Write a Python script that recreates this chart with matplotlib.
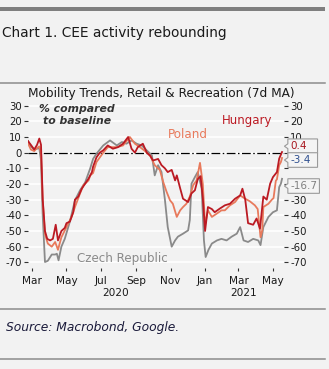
import matplotlib
matplotlib.use('Agg')
import matplotlib.pyplot as plt
import matplotlib.dates as mdates
from matplotlib.lines import Line2D
from matplotlib.patches import Rectangle
from matplotlib.path import Path
import pandas as pd

plt.rcParams['axes.unicode_minus'] = False
plt.rcParams['font.family'] = ['DejaVu Sans']

BASE = pd.Timestamp('2020-03-01')

# ---- data: days since 2020-03-01, values (% vs baseline, 7d MA) ----
hu_days = [-7, -2, 4, 9, 13, 16, 19, 23, 27, 32, 37, 42, 46, 52, 58, 61, 67, 73, 76, 82,
           88, 94, 100, 106, 108, 114, 120, 126, 134, 143, 152, 161, 170, 176, 182, 187,
           196, 203, 209, 214, 223, 229, 235, 240, 247, 253, 256, 262, 267, 276, 282, 288,
           293, 298, 302, 306, 311, 318, 323, 332, 341, 350, 359, 368, 372, 377, 382, 391,
           397, 403, 409, 415, 421, 426, 433, 437, 442]
hu_vals = [7.4, 5, 2, 5, 9, 5, -30, -50, -55, -56, -55, -46, -56, -50, -48, -45, -44, -38, -30, -28,
           -23, -19.8, -16.6, -12.4, -9, -3, 0, 1.5, 4.6, 2.5, 3.5, 5.7, 10, 2.5, 0, 3.5,
           5.7, 0, -2, -5, -4, -8, -10, -12.4, -11, -17.7, -14.5, -22.8, -29.4, -31.5, -26, -24,
           -17, -15, -29, -50, -34.7, -36, -38, -35.7, -33.6, -32.6, -29.4, -27.3, -23, -30, -45, -46,
           -42, -48.5, -28, -30, -19.8, -15.6, -12.4, -3.8, 0.4]

pl_days = [-7, -2, 4, 9, 13, 16, 19, 23, 28, 35, 41, 46, 52, 61, 70, 76, 85, 91, 100, 103,
           108, 114, 126, 134, 150, 161, 173, 182, 191, 200, 209, 217, 226, 232, 238, 244,
           249, 256, 262, 267, 273, 279, 285, 291, 297, 302, 306, 311, 318, 327, 335, 341,
           350, 359, 368, 377, 385, 394, 399, 404, 407, 409, 418, 424, 427, 431, 433, 437,
           440, 442]
pl_vals = [6, 2, 1, 3, 4, 0, -30, -52, -58, -60, -57, -62, -54, -47.5, -41, -34.7, -26, -20.7, -17.7, -14.5,
           -13, -6, 0, 3.5, 3.5, 4.6, 10, 5.7, 3.5, 1, -2, -8, -11, -18.7, -25, -30.4,
           -32.6, -41, -36.8, -34.7, -32.6, -28, -20.7, -17.7, -6.5, -20, -46, -36.8, -41, -38.8, -36.8, -36.8,
           -33.6, -31.5, -27.3, -29.4, -31, -33.6, -36, -54, -49.6, -34.7, -32.6, -30, -29, -18, -17, -8,
           -6, -3.4]

cz_days = [-7, -2, 4, 9, 13, 16, 19, 23, 28, 35, 41, 44, 47, 52, 58, 67, 76, 85, 94, 103,
           108, 114, 126, 138, 150, 159, 167, 176, 185, 194, 203, 212, 217, 223, 229, 235,
           240, 247, 253, 258, 267, 276, 279, 282, 288, 293, 300, 304, 307, 312, 318, 327,
           335, 344, 353, 362, 368, 374, 382, 391, 400, 404, 409, 418, 426, 433, 437, 440, 442]
cz_vals = [7.4, 4, 2, 2.5, 3, -5, -40, -69.8, -69, -65, -65, -64.5, -68.7, -60, -55, -44, -30.4, -24, -19, -10,
           -4, -0.7, 4.6, 7.8, 4.6, 6.8, 5.7, 7.8, 5.7, 4.6, 1.4, -1.7, -14.5, -8, -12.4, -30,
           -47.5, -60, -56, -53.6, -51.7, -49.6, -43, -19.8, -15.6, -12.4, -22.8, -56, -66.6, -62, -58, -56,
           -55, -56, -53.6, -51.7, -47.5, -56, -57, -55, -56, -59, -47.5, -41, -38, -36.8, -22, -19.8, -16.7]

series_names = ['Czech Republic', 'Poland', 'Hungary']
series_colors = {'Hungary': '#bb1a23', 'Poland': '#e87a5c', 'Czech Republic': '#8a8a8a'}
end_label_colors = {'Hungary': '#a8161e', 'Poland': '#2e4f8f', 'Czech Republic': '#808080'}
yticks = [30, 20, 10, 0, -10, -20, -30, -40, -50, -60, -70]
hidden_right_ticks = [0, -10, -20]   # covered by the end-value boxes in the original


def to_dates(days):
    return [BASE + pd.Timedelta(days=d) for d in days]


data = {
    'Hungary': (to_dates(hu_days), hu_vals),
    'Poland': (to_dates(pl_days), pl_vals),
    'Czech Republic': (to_dates(cz_days), cz_vals),
}

W, H = 329, 369
fig = plt.figure(figsize=(W / 100, H / 100), dpi=100)
fig.patch.set_facecolor('#f2f2f2')


def fx(px):
    return px / W


def fy(py):
    return 1 - py / H


def tag_box(x0, y0, width, height, mutation_size):
    pad = 0.22 * mutation_size
    tip = 0.33 * mutation_size
    minw = 2.85 * mutation_size
    x0p, y0p, y1p = x0 - pad, y0 - pad, y0 + height + pad
    x1p = max(x0 + width + pad, x0p + minw)
    ym = (y0p + y1p) / 2
    verts = [(x0p, y0p), (x1p, y0p), (x1p, y1p), (x0p, y1p),
             (x0p, ym + tip * 0.7), (x0p - tip, ym), (x0p, ym - tip * 0.7), (x0p, y0p)]
    return Path(verts, closed=True)


# header / footer decorations
fig.add_artist(Rectangle((0, fy(11)), fx(325), 4 / H, transform=fig.transFigure,
                         color='#7f7f7f', lw=0))
fig.text(fx(2), fy(33), 'Chart 1. CEE activity rebounding', fontsize=9.9,
         ha='left', va='center', color='#1a1a1a')
for yy in (83.3, 309.3, 359):
    fig.add_artist(Line2D([0, fx(325)], [fy(yy), fy(yy)], transform=fig.transFigure,
                          color='#8c8c8c', lw=1.1))
fig.text(fx(161), fy(93.5), 'Mobility Trends, Retail & Recreation (7d MA)', fontsize=8.7,
         ha='center', va='center', color='#1a1a1a')
fig.text(fx(6), fy(327.5), 'Source: Macrobond, Google.', fontsize=8.8, style='italic',
         ha='left', va='center', color='#1a1a3a')

# axes
ax = fig.add_axes([fx(28), fy(268), fx(284 - 28), (268 - 100) / H])
ax.set_facecolor('none')
for s in ax.spines.values():
    s.set_visible(False)

ax.set_ylim(-73.6, 33.6)
ax.set_xlim(BASE + pd.Timedelta(days=-7), BASE + pd.Timedelta(days=445.5))
ax.set_yticks(yticks)
ax.yaxis.grid(True, color='white', lw=1.2)
ax.set_axisbelow(True)
ax.tick_params(axis='y', left=True, right=True, labelleft=True, labelright=True,
               length=3, width=0.8, color='#333333', labelsize=7.3, pad=1.5,
               labelcolor='#1a1a1a')
ax.xaxis.set_major_locator(mdates.MonthLocator(bymonth=[1, 3, 5, 7, 9, 11]))
ax.xaxis.set_major_formatter(mdates.DateFormatter('%b'))
ax.tick_params(axis='x', length=2.5, width=0.8, color='#333333', labelsize=7.6, pad=3,
               labelcolor='#1a1a1a')
for val, tick in zip(yticks, ax.yaxis.get_major_ticks()):
    if val in hidden_right_ticks:
        tick.label2.set_visible(False)

ax.axhline(0, color='black', lw=0.9, linestyle=(0, (7, 2, 1.2, 2)), zorder=2)

for name in series_names:
    d, v = data[name]
    ax.plot(d, v, color=series_colors[name], lw=1.3, zorder=3, solid_joinstyle='round')

# year labels centred on each year's data span
all_days = sorted(set(hu_days + pl_days + cz_days))
for yr in (2020, 2021):
    dd = [BASE + pd.Timedelta(days=x) for x in all_days]
    sel = [x for x in dd if x.year == yr]
    mid = sel[0] + (sel[-1] - sel[0]) / 2
    ax.annotate(str(yr), xy=(mid, 0), xycoords=('data', 'axes fraction'),
                xytext=(0, -18), textcoords='offset points', ha='center', va='center',
                fontsize=7.6, color='#1a1a1a')

# text labels
ax.text(0.191, 0.912, '% compared\nto baseline', transform=ax.transAxes, ha='center',
        va='center', fontsize=7.8, style='italic', fontweight='bold', color='#333333',
        linespacing=1.25)
ax.text(0.857, 0.877, 'Hungary', transform=ax.transAxes, ha='center', va='center',
        fontsize=8.5, color=series_colors['Hungary'])
ax.text(0.625, 0.795, 'Poland', transform=ax.transAxes, ha='center', va='center',
        fontsize=8.6, color=series_colors['Poland'])
ax.text(0.369, 0.058, 'Czech Republic', transform=ax.transAxes, ha='center', va='center',
        fontsize=8.6, color='#8a8a8a')

# end-value boxes
box_y = {'Hungary': 4.1, 'Poland': -4.7, 'Czech Republic': -21.3}
for name in ['Hungary', 'Poland', 'Czech Republic']:
    d, v = data[name]
    ax.annotate(f'{v[-1]:.1f}', xy=(d[-1], v[-1]), xytext=(1.024, box_y[name]),
                textcoords=('axes fraction', 'data'), ha='left', va='center',
                fontsize=7.5, color=end_label_colors[name], zorder=5, annotation_clip=False,
                bbox=dict(boxstyle=tag_box, fc='#f4f4f4', ec='#9a9a9a', lw=0.8))

fig.savefig('out.png', dpi=100, facecolor=fig.get_facecolor())
